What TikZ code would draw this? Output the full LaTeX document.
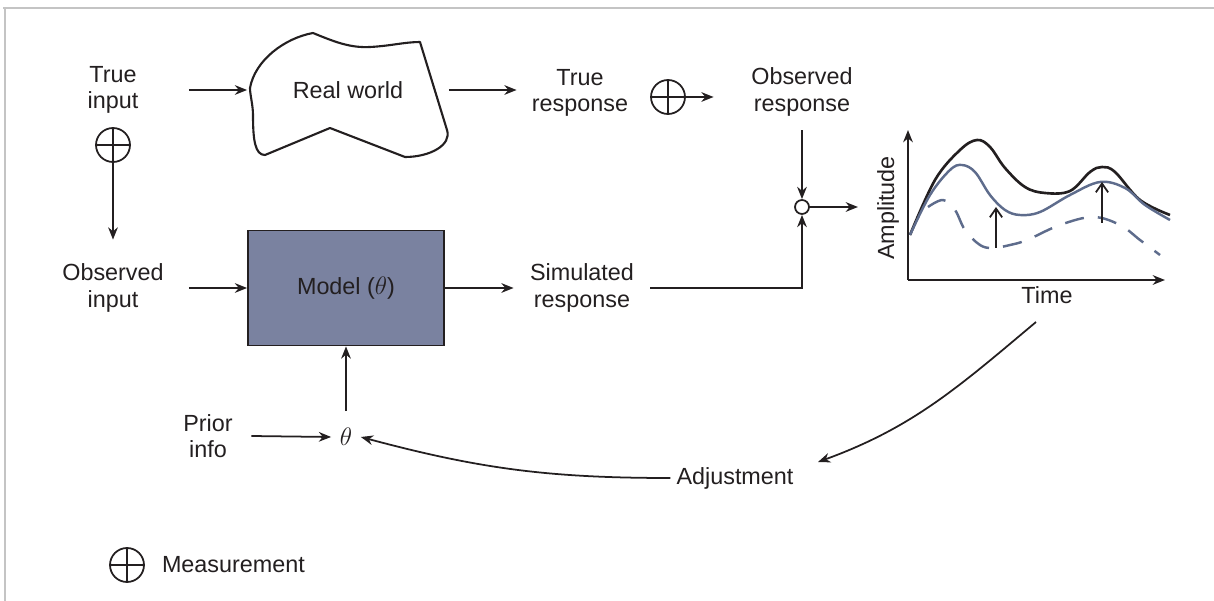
\documentclass[tikz,border=0pt]{standalone}
\usepackage{fontspec}
\setmainfont{Liberation Sans}
\usetikzlibrary{arrows.meta,positioning}
\definecolor{ink}{HTML}{231F20}
\definecolor{modelfill}{HTML}{7A82A0}
\definecolor{simline}{HTML}{5E6C8C}
\definecolor{framegray}{HTML}{C4C4C4}

\begin{document}
\begin{tikzpicture} [
                x=0.02cm, y=-0.02cm,
                line width=1pt,
                color=ink,
                >={Stealth[length=7pt,width=5.5pt]},
                txt/.style = {font=\fontsize{13.3}{15}\selectfont, align=center, inner sep=3pt, text=ink},
                model/.style = {txt, draw, fill=modelfill, minimum width=3.92cm, minimum height=2.3cm},
                meas/.style = {circle, draw, minimum size=0.68cm, inner sep=0pt,
                    path picture={\draw[line width=1pt] (path picture bounding box.north) -- (path picture bounding box.south)
                        (path picture bounding box.west) -- (path picture bounding box.east);}},
                junction/.style = {circle, draw, fill=white, minimum size=0.28cm, inner sep=0pt},
                link/.style = {draw, ->},
                sim curve/.style = {simline, line width=1.4pt},
                peak arrow/.style = {-{Straight Barb[length=5pt,width=7pt]}, line width=1pt}
            ]
        \useasboundingbox (0,0) rectangle (1214,601);
        % frame
            \draw[framegray, line width=1.2pt] (3,8) -- (1214,8) (5,8) -- (5,601);
        % First we draw the blocks and labels
            \draw[line width=1.2pt, line join=round] (250,88)
                .. controls (255,60) and (285,38) .. (313,33)
                .. controls (335,42) and (350,48) .. (370,47)
                .. controls (390,46) and (405,42) .. (420,42)
                -- (447,130)
                .. controls (452,145) and (430,157) .. (405,157)
                -- (330,128) -- (265,155)
                .. controls (255,155) and (253,140) .. (253,115)
                .. controls (253,105) and (250,95) .. cycle;
            \node[txt, minimum width=4cm] (world) at (348,90) {Real world};
            \node[txt, minimum width=3cm] (tin) at (113,90) {True\\input};
            \node[txt, minimum width=3cm, minimum height=1.9cm] (oin) at (113,288) {Observed\\input};
            \node[model] (mdl) at (346,288) {Model ($\theta$)};
            \node[txt, minimum width=0.56cm, minimum height=1cm] (theta) at (346,437) {$\theta$};
            \node[txt, minimum width=1.7cm] (prior) at (208,436) {Prior\\info};
            \node[txt, minimum width=2.5cm] (tresp) at (580,93) {True\\response};
            \node[txt, minimum width=3.5cm, minimum height=1.5cm] (oresp) at (802,92) {Observed\\response};
            \node[txt, minimum width=2.7cm] (sresp) at (582,288) {Simulated\\response};
            \node[txt] (adj) at (735,478) {Adjustment};
            \node[junction] (sum) at (802,207) {};
        % measurement marks
            \foreach \pos/\name in {
                {(113,145)/m1},
                {(668,97)/m2},
                {(127,565)/m3}}
            \node[meas] (\name) at \pos {};
            \node[txt, right=0.22cm of m3] (legend) {Measurement};
        % the plot
            \coordinate (org) at (908,280);
            \coordinate (plotin) at (858,207);
            \coordinate (plotout) at (1036,322);
            \coordinate (adjin) at (818,462);
            \draw[->] (org) -- (908,130);
            \draw[->] (org) -- (1165,280);
            \node[txt, rotate=90] (amp) at (888,208) {Amplitude};
            \node[txt] (time) at (1047,295) {Time};
            \draw[line width=1.5pt] plot[smooth, tension=0.6] coordinates {
                (910,235) (935,180) (960,150) (977,140) (990,147) (1005,168) (1025,187)
                (1045,193) (1070,191) (1090,172) (1102,167) (1115,172) (1140,200) (1170,215)};
            \draw[sim curve] plot[smooth, tension=0.6] coordinates {
                (910,235) (930,195) (950,170) (962,165) (975,172) (990,195) (1005,210)
                (1020,215) (1040,212) (1070,195) (1100,182) (1125,188) (1145,205) (1170,220)};
            \draw[sim curve, dash pattern=on 11pt off 8pt] plot[smooth, tension=0.6] coordinates {
                (928,207) (943,200) (955,210) (965,230) (980,245) (993,248) (1010,245)
                (1027,240) (1060,225) (1093,217) (1120,225) (1140,240) (1160,255)};
            \draw[peak arrow] (996,248) -- (996,207);
            \draw[peak arrow] (1102,223) -- (1102,182);
        % Connect blocks with arrows
            \foreach \source/ \dest in {
            tin.east/world.west, m1.south/oin.north, oin.east/mdl.west,
            mdl.east/sresp.west, oresp.south/sum.north, sum.east/plotin,
            prior.east/theta.west, theta.north/mdl.south}
            \path[link] (\source) -- (\dest);
            \path[link] (world.east) -- (world.east -| tresp.west);
            \path[link] (m2.east) -- (m2.east -| oresp.west);
            \path[link] (sresp.east) -| (sum.south);
            \path[link] (plotout) to[out=220, in=20] (adjin);
            \path[link] (adj.west) to[out=180, in=-15] (theta.east);
        \end{tikzpicture}
\end{document}
